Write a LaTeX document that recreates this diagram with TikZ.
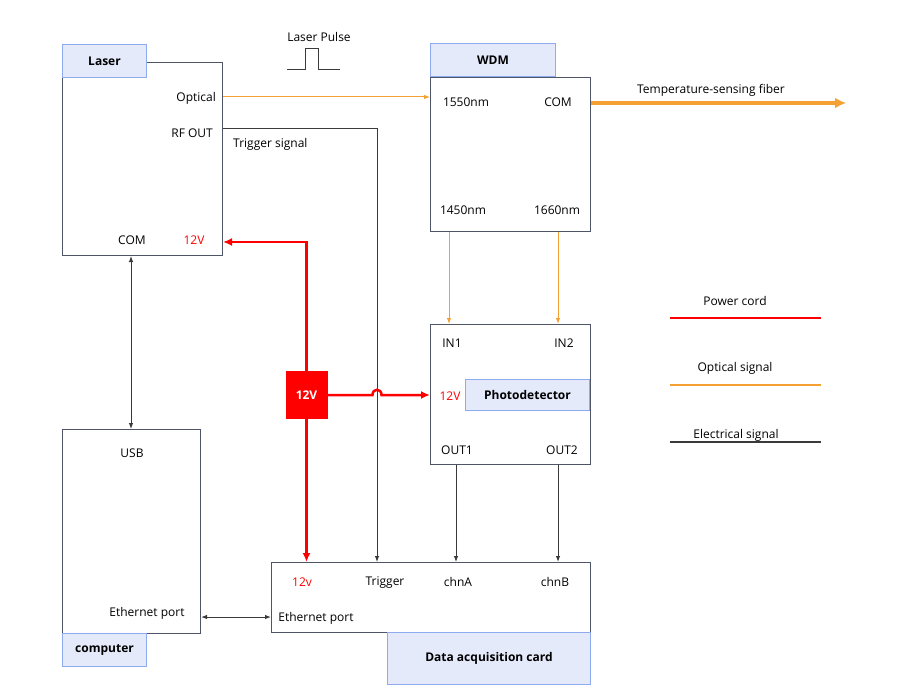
\documentclass[tikz,border=0pt]{standalone}
\usepackage{fontspec}
\setmainfont{Open Sans}
\usetikzlibrary{arrows.meta}
\definecolor{boxc}{HTML}{4E5566}
\definecolor{tagc}{HTML}{8EAAF0}
\definecolor{tagf}{HTML}{E5EAFB}
\definecolor{optc}{HTML}{F5A033}
\definecolor{pwrc}{HTML}{FF0000}
\definecolor{elec}{HTML}{3A3A3A}
\newcommand{\tagtxt}[1]{\raisebox{-1.5pt}{#1}}
\tikzset{
  mainbox/.style={draw=boxc, line width=1pt, fill=white, inner sep=0pt, anchor=north west},
  tagbox/.style={draw=tagc, line width=1pt, fill=tagf, inner sep=0pt, font=\fontsize{12}{14}\selectfont\bfseries},
  psubox/.style={fill=pwrc, draw=pwrc, inner sep=0pt, text=white, font=\fontsize{12}{14}\selectfont\bfseries},
  lbl/.style={inner sep=0pt, yshift=-1.2pt, font=\fontsize{12}{14}\selectfont},
  redlbl/.style={lbl, text=pwrc},
  thinarrow/.style={-{Latex[length=6pt,width=4.5pt]}},
  optline/.style={draw=optc, line width=1pt},
  fiberline/.style={draw=optc, line width=3.5pt, -{Latex[length=11pt,width=11pt]}},
  pwrline/.style={draw=pwrc, line width=2.5pt},
  eline/.style={draw=elec, line width=1pt},
}
\begin{document}
\begin{tikzpicture}[x=1pt,y=-1pt]
\useasboundingbox (0,0) rectangle (901,698);
% boxes
\node[mainbox, minimum width=160, minimum height=193] (laser) at (62,62) {};
\node[tagbox, minimum width=84, minimum height=33, anchor=north west] (lasertag) at (62,44) {\tagtxt{Laser}};
\node[mainbox, minimum width=160, minimum height=154] (wdm) at (430,77) {};
\node[tagbox, minimum width=125, minimum height=33, anchor=south west] (wdmtag) at (430,77) {\tagtxt{WDM}};
\node[mainbox, minimum width=160, minimum height=140] (pd) at (430,324) {};
\node[tagbox, minimum width=124, minimum height=31, anchor=east] (pdtag) at (590,394.5) {\tagtxt{Photodetector}};
\node[mainbox, minimum width=138, minimum height=204] (pc) at (62,429) {};
\node[tagbox, minimum width=84, minimum height=33, anchor=north west] (pctag) at (62,633) {\tagtxt{computer}};
\node[mainbox, minimum width=319, minimum height=70] (daq) at (271,562) {};
\node[tagbox, minimum width=203, minimum height=52, anchor=north west] (daqtag) at (387,632) {\tagtxt{Data acquisition card}};
% labels
\node[lbl, anchor=east] (opttxt) at (216,97) {Optical};
\node[lbl, anchor=east] (rftxt) at (213,132) {RF OUT};
\node[lbl, anchor=west] (trigtxt) at (233,143) {Trigger signal};
\node[lbl] (lcom) at (132,239) {COM};
\node[redlbl] (l12v) at (194,239) {12V};
\node[lbl] (pulsetxt) at (319,36) {Laser Pulse};
\node[lbl] (w1550) at (466,101) {1550nm};
\node[lbl] (wcom) at (558,101) {COM};
\node[lbl] (w1450) at (463,209) {1450nm};
\node[lbl] (w1660) at (557,209) {1660nm};
\node[lbl] (fibertxt) at (711,89) {Temperature-sensing fiber};
\node[lbl] (in1) at (452,342) {IN1};
\node[lbl] (in2) at (564,342) {IN2};
\node[redlbl] (p12v) at (450,395) {12V};
\node[lbl] (out1) at (457,449) {OUT1};
\node[lbl] (out2) at (562,449) {OUT2};
\node[lbl] (usb) at (132,452) {USB};
\node[lbl] (pceth) at (147,612) {Ethernet port};
\node[redlbl] (d12v) at (302,581) {12v};
\node[lbl] (dtrig) at (385,581) {Trigger};
\node[lbl] (dchna) at (458,581) {chnA};
\node[lbl] (dchnb) at (555,581) {chnB};
\node[lbl] (deth) at (316,617) {Ethernet port};
% legend
\node[lbl] (legpwr) at (735,300) {Power cord};
\node[lbl] (legopt) at (735,367) {Optical signal};
\node[lbl] (legele) at (736,434) {Electrical signal};
\coordinate (lp1) at (670,318); \coordinate (lp2) at (821,318);
\coordinate (lo1) at (670,385); \coordinate (lo2) at (821,385);
\coordinate (le1) at (670,442); \coordinate (le2) at (821,442);
\draw[draw=pwrc, line width=2pt] (lp1) -- (lp2);
\draw[draw=optc, line width=1.5pt] (lo1) -- (lo2);
\draw[draw=elec, line width=1.2pt] (le1) -- (le2);
% laser pulse
\draw[draw=elec, line width=0.8pt] (287,69) -- (305,69) -- (305,48) -- (318,48) -- (318,69) -- (340,69);
% power supply
\node[psubox, minimum width=41, minimum height=47] (psu) at (306.5,395) {12V};
% connectors
\coordinate (optin) at (430,97);
\draw[optline, thinarrow] (laser.east |- optin) -- (optin);
\coordinate (trigc) at (377,128);
\draw[eline, thinarrow] (laser.east |- trigc) -- (trigc) -- (trigc |- daq.north);
\coordinate (fiberend) at (846,103);
\draw[fiberline] (wdm.east |- fiberend) -- (fiberend);
\draw[optline, thinarrow] ([xshift=19pt]wdm.south west) -- ([xshift=19pt]pd.north west);
\draw[optline, thinarrow] ([xshift=-33pt]wdm.south east) -- ([xshift=-33pt]pd.north east);
\draw[eline, thinarrow] ([xshift=26pt]pd.south west) -- ([xshift=26pt]pd.south west |- daq.north);
\draw[eline, thinarrow] ([xshift=-33pt]pd.south east) -- ([xshift=-33pt]pd.south east |- daq.north);
\coordinate (pwrc1) at (306.5,242);
\draw[pwrline, {Latex[length=9pt,width=8pt]}-{Latex[length=9pt,width=8pt]}] (laser.east |- pwrc1) -- (pwrc1) -- (pwrc1 |- daq.north);
\node[psubox, minimum width=41, minimum height=47] at (psu) {12V};
\coordinate (hopa) at (372.5,395); \coordinate (hopb) at (381.5,395);
\draw[pwrline, -{Latex[length=9pt,width=8pt]}] (psu.east) -- (hopa) .. controls (372.5,388) and (381.5,388) .. (hopb) -- (pd.west |- psu);
\coordinate (usbc) at (131,0);
\draw[eline, {Latex[length=6pt,width=4.5pt]}-{Latex[length=6pt,width=4.5pt]}] (usbc |- laser.south) -- (usbc |- pc.north);
\coordinate (ethc) at (0,617);
\draw[eline, {Latex[length=6pt,width=4.5pt]}-{Latex[length=6pt,width=4.5pt]}] (pc.east |- ethc) -- (daq.west |- ethc);
\end{tikzpicture}
\end{document}
